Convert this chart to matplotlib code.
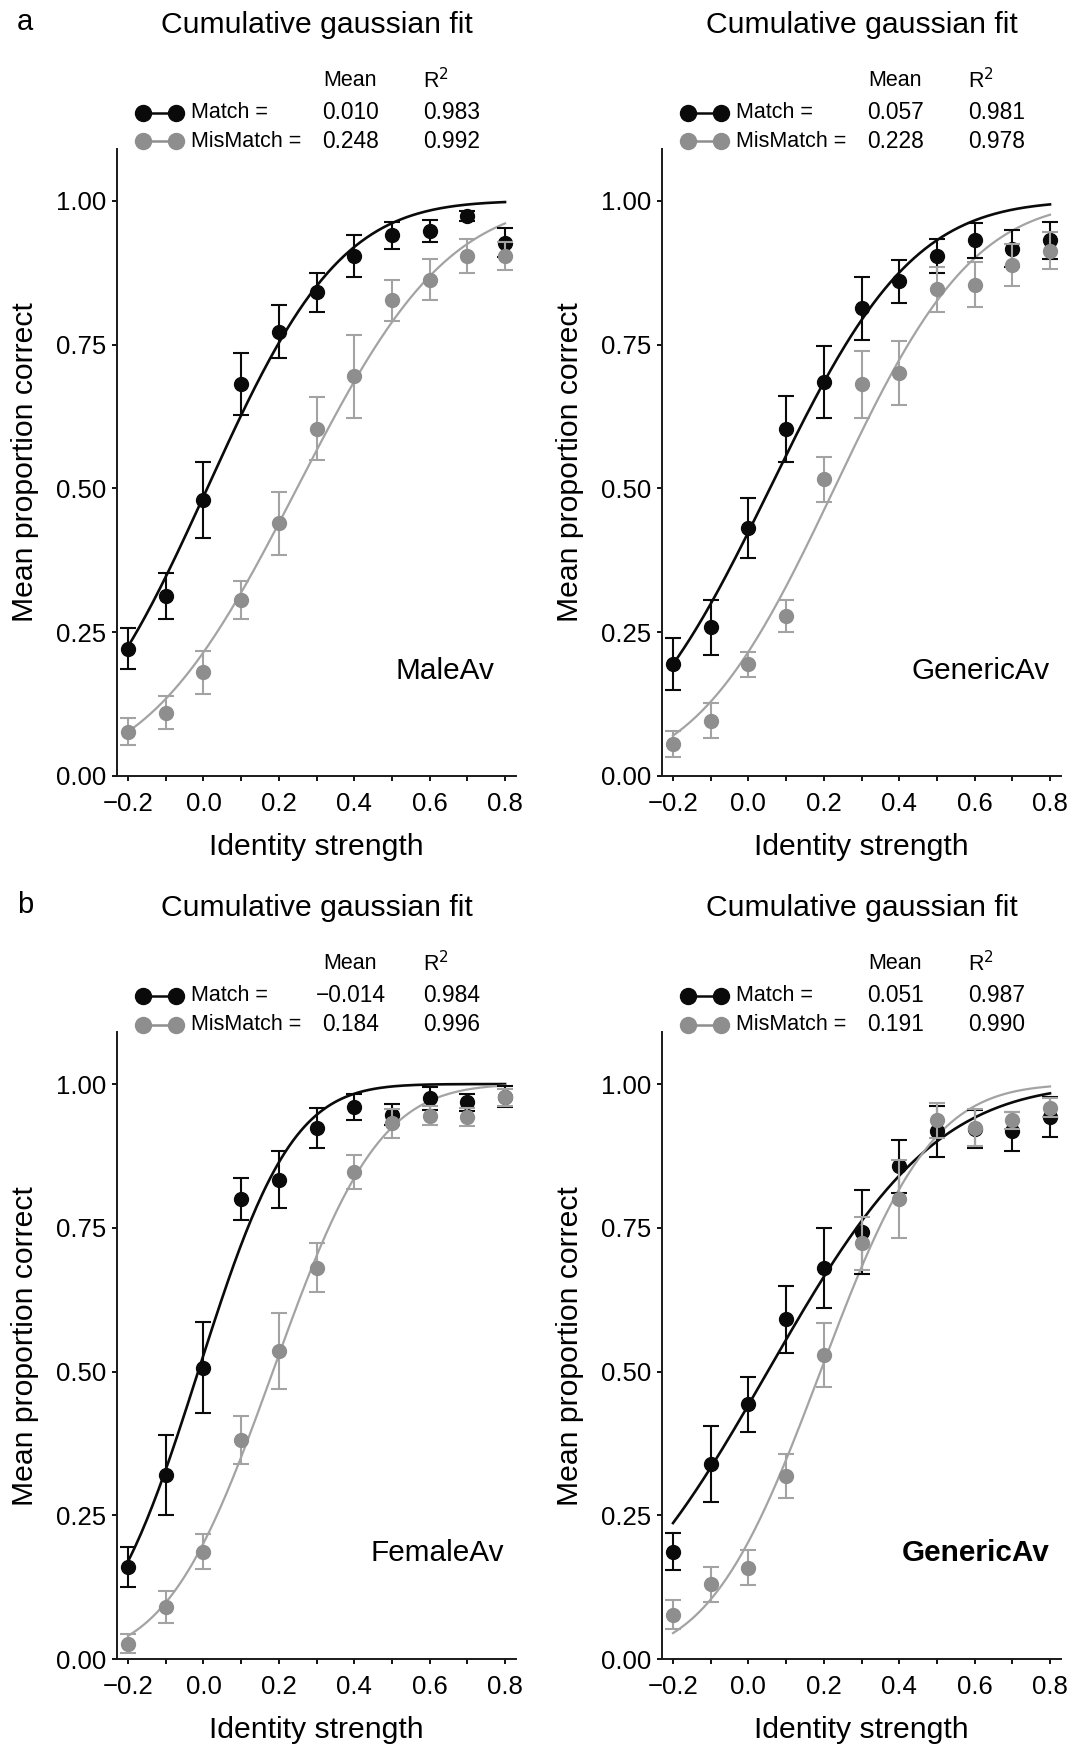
import math

import matplotlib
matplotlib.use("Agg")
import matplotlib.pyplot as plt
import numpy as np
from matplotlib.lines import Line2D
from matplotlib.ticker import FuncFormatter

plt.rcParams.update({
    "font.family": ["Liberation Sans", "DejaVu Sans"],
    "axes.spines.top": False, "axes.spines.right": False,
    "axes.linewidth": 1.4, "axes.edgecolor": "#1a1a1a",
    "xtick.direction": "out", "ytick.direction": "out",
    "xtick.major.size": 3.6, "ytick.major.size": 3.6,
    "xtick.minor.size": 3.6, "xtick.major.width": 1.3,
    "ytick.major.width": 1.3, "xtick.minor.width": 1.3,
    "xtick.labelsize": 18.5, "ytick.labelsize": 18.5,
})

BLACK = "#0a0a0a"
GRAY_DOT = "#8e8e8e"
GRAY_LINE = "#a3a3a3"

X = [-0.2, -0.1, 0.0, 0.1, 0.2, 0.3, 0.4, 0.5, 0.6, 0.7, 0.8]

# a, left: MaleAv
MALE_MATCH = [0.221, 0.312, 0.480, 0.681, 0.772, 0.841, 0.904, 0.940, 0.947, 0.974, 0.927]
MALE_MATCH_ERR = [0.036, 0.040, 0.066, 0.054, 0.046, 0.034, 0.037, 0.023, 0.019, 0.009, 0.025]
MALE_MIS = [0.077, 0.110, 0.180, 0.306, 0.439, 0.604, 0.695, 0.827, 0.863, 0.904, 0.904]
MALE_MIS_ERR = [0.023, 0.029, 0.037, 0.033, 0.055, 0.055, 0.072, 0.036, 0.036, 0.030, 0.025]

# a, right: GenericAv
GEN_A_MATCH = [0.194, 0.258, 0.431, 0.603, 0.685, 0.813, 0.860, 0.904, 0.931, 0.917, 0.931]
GEN_A_MATCH_ERR = [0.045, 0.047, 0.053, 0.058, 0.063, 0.055, 0.037, 0.029, 0.030, 0.032, 0.032]
GEN_A_MIS = [0.055, 0.096, 0.194, 0.278, 0.516, 0.681, 0.701, 0.846, 0.854, 0.888, 0.913]
GEN_A_MIS_ERR = [0.023, 0.031, 0.022, 0.028, 0.039, 0.058, 0.056, 0.039, 0.039, 0.037, 0.032]

# b, left: FemaleAv
FEM_MATCH = [0.160, 0.320, 0.507, 0.800, 0.834, 0.924, 0.960, 0.947, 0.975, 0.968, 0.978]
FEM_MATCH_ERR = [0.035, 0.070, 0.079, 0.036, 0.049, 0.035, 0.022, 0.018, 0.020, 0.015, 0.018]
FEM_MIS = [0.027, 0.090, 0.187, 0.381, 0.536, 0.681, 0.847, 0.932, 0.945, 0.943, 0.977]
FEM_MIS_ERR = [0.016, 0.028, 0.031, 0.042, 0.066, 0.042, 0.029, 0.025, 0.016, 0.016, 0.015]

# b, right: GenericAv
GEN_B_MATCH = [0.187, 0.340, 0.443, 0.591, 0.680, 0.743, 0.857, 0.918, 0.922, 0.918, 0.943]
GEN_B_MATCH_ERR = [0.032, 0.066, 0.048, 0.058, 0.070, 0.073, 0.046, 0.044, 0.033, 0.034, 0.035]
GEN_B_MIS = [0.077, 0.130, 0.159, 0.319, 0.529, 0.723, 0.800, 0.937, 0.924, 0.937, 0.959]
GEN_B_MIS_ERR = [0.025, 0.030, 0.030, 0.038, 0.056, 0.046, 0.068, 0.030, 0.032, 0.015, 0.017]

# fit parameters: mean (from legend), sigma, R^2
FIT_MEAN_MATCH = [0.010, 0.057, -0.014, 0.051]
FIT_SD_MATCH = [0.278, 0.298, 0.195, 0.350]
FIT_MEAN_MIS = [0.248, 0.228, 0.184, 0.191]
FIT_SD_MIS = [0.314, 0.290, 0.220, 0.231]
R2_MATCH = ["0.983", "0.981", "0.984", "0.987"]
R2_MIS = ["0.992", "0.978", "0.996", "0.990"]
MEAN_MATCH_TXT = ["0.010", "0.057", "\u22120.014", "0.051"]
MEAN_MIS_TXT = ["0.248", "0.228", "0.184", "0.191"]

NAMES = ["MaleAv", "GenericAv", "FemaleAv", "GenericAv"]
PANELS = [
    (MALE_MATCH, MALE_MATCH_ERR, MALE_MIS, MALE_MIS_ERR),
    (GEN_A_MATCH, GEN_A_MATCH_ERR, GEN_A_MIS, GEN_A_MIS_ERR),
    (FEM_MATCH, FEM_MATCH_ERR, FEM_MIS, FEM_MIS_ERR),
    (GEN_B_MATCH, GEN_B_MATCH_ERR, GEN_B_MIS, GEN_B_MIS_ERR),
]


def cum_gauss(x, mu, sd):
    return np.array([0.5 * (1 + math.erf((v - mu) / (sd * math.sqrt(2)))) for v in x])


xfmt = FuncFormatter(lambda v, _: f"{v:.1f}".replace("-", "\u2212"))
yfmt = FuncFormatter(lambda v, _: f"{v:.2f}")

fig = plt.figure(figsize=(10.73, 17.47), dpi=100)
W, H = 0.3724, 0.3588
POS = [(0.1088, 0.5559), (0.6167, 0.5559), (0.1088, 0.0503), (0.6167, 0.0503)]
NAME_POS = [(0.946, 0.167), (0.971, 0.167), (0.968, 0.170), (0.971, 0.170)]

xs = np.linspace(-0.2, 0.8, 200)
for i, (pos, (m, me, mm, mme)) in enumerate(zip(POS, PANELS)):
    ax = fig.add_axes([pos[0], pos[1], W, H])
    ax.plot(xs, cum_gauss(xs, FIT_MEAN_MATCH[i], FIT_SD_MATCH[i]),
            color=BLACK, lw=1.9, zorder=2)
    ax.plot(xs, cum_gauss(xs, FIT_MEAN_MIS[i], FIT_SD_MIS[i]),
            color=GRAY_LINE, lw=1.6, zorder=2)
    ax.errorbar(X, m, yerr=me, fmt="o", color=BLACK, ms=10, capsize=6,
                elinewidth=1.5, capthick=1.5, zorder=3)
    ax.errorbar(X, mm, yerr=mme, fmt="o", color=GRAY_DOT, ecolor=GRAY_LINE,
                ms=10, capsize=6, elinewidth=1.5, capthick=1.5, zorder=4)

    ax.set_xlim(-0.23, 0.83)
    ax.set_ylim(0, 1.09)
    ax.set_xticks([-0.2, 0.0, 0.2, 0.4, 0.6, 0.8])
    ax.set_xticks([-0.1, 0.1, 0.3, 0.5, 0.7], minor=True)
    ax.set_yticks([0, 0.25, 0.5, 0.75, 1.0])
    ax.xaxis.set_major_formatter(xfmt)
    ax.yaxis.set_major_formatter(yfmt)
    ax.tick_params(axis="x", which="both", pad=8)
    ax.tick_params(axis="y", pad=4)
    ax.set_xlabel("Identity strength", fontsize=21.7, labelpad=12)
    ax.set_ylabel("Mean proportion correct", fontsize=21.7, labelpad=12)

    ax.text(NAME_POS[i][0], NAME_POS[i][1], NAMES[i], transform=ax.transAxes,
            ha="right", va="center", fontsize=21.4,
            fontweight="bold" if i == 3 else "normal")

    ax.text(0.5, 1.198, "Cumulative gaussian fit", transform=ax.transAxes,
            ha="center", va="center", fontsize=21.7)

    # legend block above the axes
    tr = ax.transAxes
    ax.text(0.585, 1.109, "Mean", transform=tr, ha="center", va="center",
            fontsize=15.5)
    ax.text(0.766, 1.109, "R$^2$", transform=tr, ha="left", va="center",
            fontsize=15.5)
    for y, col, lab, mt, r2 in ((1.058, BLACK, "Match =", MEAN_MATCH_TXT[i], R2_MATCH[i]),
                                (1.012, GRAY_DOT, "MisMatch =", MEAN_MIS_TXT[i], R2_MIS[i])):
        ax.add_line(Line2D([0.065, 0.148], [y, y], transform=tr, color=col,
                           lw=1.8, marker="o", ms=11.5, clip_on=False))
        ax.text(0.187, y, lab, transform=tr, ha="left", va="center",
                fontsize=15.5)
        ax.text(0.585, y, mt, transform=tr, ha="center", va="center",
                fontsize=16.4)
        ax.text(0.766, y, r2, transform=tr, ha="left", va="center",
                fontsize=16.4)

fig.text(0.0156, 0.9872, "a", fontsize=21, va="center", ha="left")
fig.text(0.0156, 0.4821, "b", fontsize=21, va="center", ha="left")

fig.savefig("out.png", dpi=100)
